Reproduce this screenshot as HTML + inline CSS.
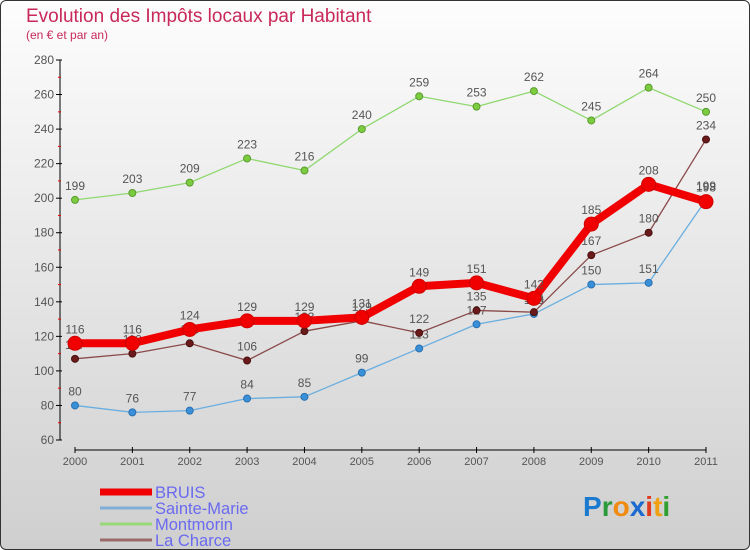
<!DOCTYPE html>
<html><head><meta charset="utf-8"><style>
body{margin:0;}
#wrap{width:748px;height:548px;position:relative;overflow:hidden;border-radius:6px;border:1px solid #333;background:linear-gradient(#fdfdfd,#cfcfcf);font-family:"Liberation Sans",sans-serif;}
svg{position:absolute;left:-1px;top:-1px;}
</style></head><body>
<div id="wrap">
<svg id="chart" width="750" height="550"></svg>
</div>
<script>
const years=["2000","2001","2002","2003","2004","2005","2006","2007","2008","2009","2010","2011"];
const bruis=[116,116,124,129,129,131,149,151,142,185,208,198];
const sainteMarie=[80,76,77,84,85,99,113,127,133,150,151,199];
const montmorin=[199,203,209,223,216,240,259,253,262,245,264,250];
const laCharce=[107,110,116,106,123,129,122,135,134,167,180,234];
const yTicks=[60,80,100,120,140,160,180,200,220,240,260,280];
const NS="http://www.w3.org/2000/svg";
const svg=document.getElementById('chart');
function x(i){return 75+i*(706-75)/(years.length-1);}
function y(v){return 440-(v-60)*(380/220);}
function mk(t,a,p){const e=document.createElementNS(NS,t);for(const k in a)e.setAttribute(k,a[k]);(p||svg).appendChild(e);return e;}
function txt(s,a){const e=mk('text',a);e.textContent=s;return e;}
let t=txt('Evolution des Impôts locaux par Habitant',{x:26,y:22,'font-size':19,fill:'#c8285a'});

t=txt('(en € et par an)',{x:26,y:39,'font-size':12,fill:'#c8285a'});

let ax=mk('line',{x1:60,y1:60,x2:60,y2:440,stroke:'#000','stroke-width':1});

yTicks.forEach((v,i)=>{mk('line',{x1:56,x2:62,y1:y(v),y2:y(v),stroke:'#000'});
 let l=txt(v,{x:54,y:y(v)+4,'font-size':12,fill:'#555','text-anchor':'end'});
 
 if(i<yTicks.length-1)mk('line',{x1:58,x2:61,y1:y(v+10),y2:y(v+10),stroke:'#e00'});});
ax=mk('line',{x1:75,y1:450,x2:706,y2:450,stroke:'#000'});

years.forEach((yr,i)=>{mk('line',{x1:x(i),x2:x(i),y1:447,y2:453,stroke:'#000'});
 let l=txt(yr,{x:x(i),y:465,'font-size':11,fill:'#555','text-anchor':'middle'});
 });
function series(name,data,color,w,r,dot,stroke){
 const g=mk('g',{});
 mk('polyline',{points:data.map((v,i)=>x(i)+','+y(v)).join(' '),fill:'none',stroke:color,'stroke-width':w,'stroke-linejoin':'round'},g);
 data.forEach((v,i)=>{const c=mk('circle',{cx:x(i),cy:y(v),r:r,fill:dot,stroke:stroke,'stroke-width':1},g);
  
  const l=txt(v,{x:x(i),y:y(v)-10,'font-size':12,fill:'#555','text-anchor':'middle'});
  });
}
series('montmorin',montmorin,'#90d870',1.3,3.5,'#7ccc40','#5a9a30');
series('sainte-marie',sainteMarie,'#6aaee0',1.3,3.5,'#3a90d8','#2a70b0');
series('la-charce',laCharce,'#8a4a4a',1.3,3.5,'#6a1a1a','#4a1010');
series('bruis',bruis,'#f00000',8,7,'#f00000','#d00000');
const leg=[['BRUIS','#f00000',7],['Sainte-Marie','#80aed8',3],['Montmorin','#98d878',3],['La Charce','#9a6a6a',3]];
leg.forEach((l,i)=>{const g=mk('g',{});
 const yy=492+i*16;mk('line',{x1:100,x2:152,y1:yy,y2:yy,stroke:l[1],'stroke-width':l[2]},g);
 const tt=mk('text',{x:155,y:yy+6,'font-size':16.5,fill:'#6a6af0'},g);tt.textContent=l[0];});
const logo=mk('text',{x:583,y:516,'font-size':28,'font-weight':'bold'});

[['P','#1a7ad0'],['r','#2a9a3a'],['o','#f08a10'],['x','#1a6ad0'],['i','#e03a20'],['t','#f0a010'],['i','#30a030']].forEach(p=>{const s=mk('tspan',{fill:p[1]},logo);s.textContent=p[0];});
</script>
</body></html>
